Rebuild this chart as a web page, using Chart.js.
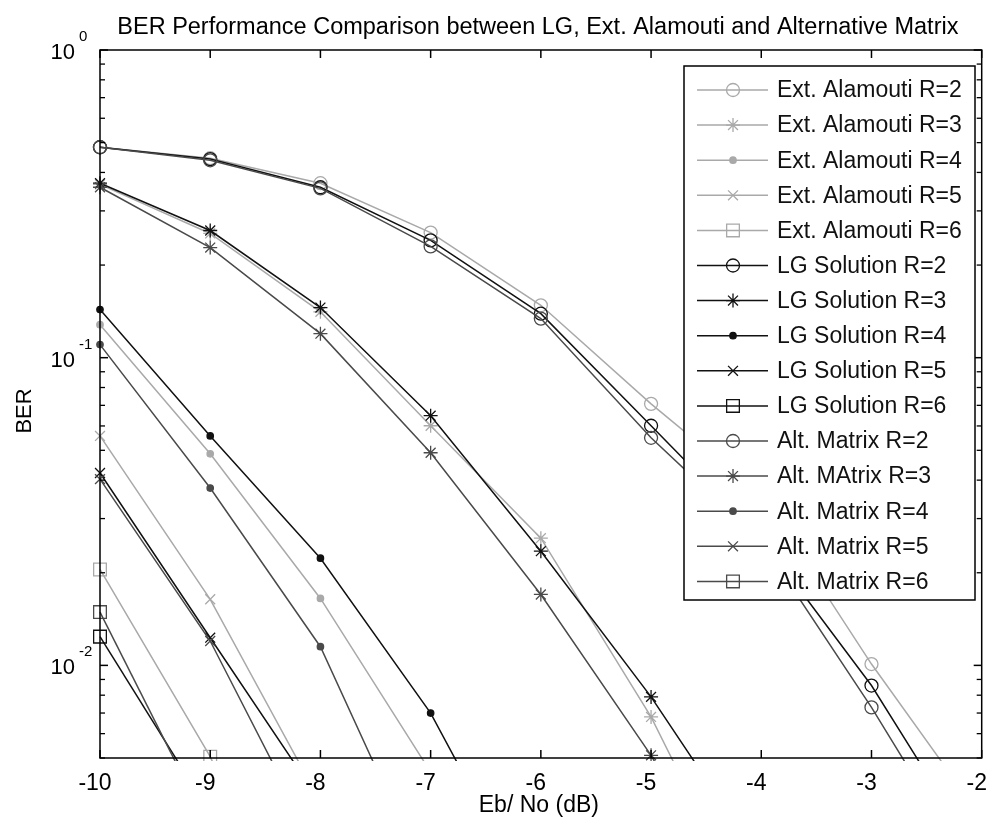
<!DOCTYPE html>
<html><head><meta charset="utf-8">
<script src="https://cdn.jsdelivr.net/npm/chart.js@4.4.0/dist/chart.umd.min.js"></script>
<style>html,body{margin:0;padding:0;background:#fff;}canvas{display:block;}</style>
</head><body>
<canvas id="c" width="992" height="825"></canvas>
<script>
// ---- data ----
const ebno = [-10, -9, -8, -7, -6, -5, -4, -3, -2];
const xTickLabels = ['-10', '-9', '-8', '-7', '-6', '-5', '-4', '-3', '-2'];
const yMajorTicks = [1, 0.1, 0.01];
const yTickExponents = ['0', '-1', '-2'];

const extR2 = [0.483, 0.445, 0.369, 0.255, 0.148, 0.0708, 0.0358, 0.0101, 0.0032];
const extR3 = [0.366, 0.2534, 0.141, 0.0601, 0.0259, 0.0068, 0.0013];
const extR4 = [0.128, 0.0487, 0.0165, 0.0045, 0.0009];
const extR5 = [0.0557, 0.0164, 0.0036];
const extR6 = [0.0205, 0.00505, 0.0008];

const lgR2 = [0.483, 0.442, 0.358, 0.2405, 0.139, 0.0601, 0.0259, 0.0086, 0.0023];
const lgR3 = [0.369, 0.259, 0.1455, 0.0648, 0.0235, 0.0079, 0.0023];
const lgR4 = [0.1433, 0.0557, 0.0223, 0.0070, 0.0015];
const lgR5 = [0.0422, 0.0123, 0.0036];
const lgR6 = [0.0124, 0.0033];

const altR2 = [0.483, 0.438, 0.355, 0.230, 0.134, 0.0549, 0.0253, 0.0073, 0.0019];
const altR3 = [0.358, 0.228, 0.1197, 0.0491, 0.0170, 0.0051, 0.0012];
const altR4 = [0.1103, 0.0377, 0.0115, 0.0019];
const altR5 = [0.0403, 0.0120, 0.0024];
const altR6 = [0.0149, 0.0029];

const seriesNames = [
  'Ext. Alamouti R=2', 'Ext. Alamouti R=3', 'Ext. Alamouti R=4', 'Ext. Alamouti R=5', 'Ext. Alamouti R=6',
  'LG Solution R=2', 'LG Solution R=3', 'LG Solution R=4', 'LG Solution R=5', 'LG Solution R=6',
  'Alt. Matrix R=2', 'Alt. MAtrix R=3', 'Alt. Matrix R=4', 'Alt. Matrix R=5', 'Alt. Matrix R=6'
];
const seriesValues = [extR2, extR3, extR4, extR5, extR6, lgR2, lgR3, lgR4, lgR5, lgR6, altR2, altR3, altR4, altR5, altR6];

const titleText = 'BER Performance Comparison between LG, Ext. Alamouti and Alternative Matrix';
const xTitle = 'Eb/ No (dB)';
const yTitle = 'BER';

// ---- styles ----
const FONT = '"Liberation Sans", Arial, Helvetica, sans-serif';
const groupColors = ['#a9a9a9', '#111111', '#4a4a4a'];
const markerStyles = [
  {pointStyle: 'circle', radius: 6.5, filled: false},
  {pointStyle: 'star', radius: 7, filled: false},
  {pointStyle: 'circle', radius: 3.2, filled: true},
  {pointStyle: 'crossRot', radius: 7, filled: false},
  {pointStyle: 'rect', radius: 9, filled: false}
];

const datasets = seriesValues.map((vals, i) => {
  const g = Math.floor(i / 5), m = markerStyles[i % 5];
  const col = groupColors[g];
  return {
    label: seriesNames[i],
    data: vals.map((v, k) => ({x: ebno[k], y: v})),
    borderColor: col,
    backgroundColor: m.filled ? col : 'rgba(0,0,0,0)',
    pointBorderColor: col,
    pointBackgroundColor: m.filled ? col : 'rgba(0,0,0,0)',
    pointStyle: m.pointStyle,
    pointRadius: m.radius,
    pointHoverRadius: m.radius,
    pointBorderWidth: 1.3,
    borderWidth: 1.5,
    tension: 0,
    fill: false,
    order: 20 - i,
    clip: {left: 12, top: 0, right: 0, bottom: 3}
  };
});

function line(ctx, x1, y1, x2, y2) {
  ctx.beginPath(); ctx.moveTo(x1, y1); ctx.lineTo(x2, y2); ctx.stroke();
}

function drawMarker(ctx, ds, x, y) {
  ctx.save();
  ctx.strokeStyle = ds.pointBorderColor;
  ctx.fillStyle = ds.pointBackgroundColor;
  ctx.lineWidth = ds.pointBorderWidth;
  Chart.helpers.drawPoint(ctx, {pointStyle: ds.pointStyle, radius: ds.pointRadius, rotation: 0, borderWidth: ds.pointBorderWidth}, x, y);
  ctx.restore();
}

const matlabPlugin = {
  id: 'matlabLook',
  afterDraw(chart) {
    const {ctx, chartArea: a} = chart;
    const xs = chart.scales.x, ys = chart.scales.y;
    ctx.save();
    ctx.strokeStyle = '#000';
    ctx.fillStyle = '#000';
    ctx.lineWidth = 1.5;
    // axes box
    ctx.strokeRect(a.left, a.top, a.right - a.left, a.bottom - a.top);
    // x ticks (inward, bottom and top) + labels
    ctx.font = '23px ' + FONT;
    ctx.textAlign = 'center';
    ctx.textBaseline = 'alphabetic';
    ebno.forEach((v, i) => {
      const px = xs.getPixelForValue(v);
      line(ctx, px, a.bottom, px, a.bottom - 8);
      line(ctx, px, a.top, px, a.top + 8);
      ctx.fillText(xTickLabels[i], px - 5, a.bottom + 32);
    });
    // y ticks: minor and major
    ctx.lineWidth = 1.3;
    for (let k = -3; k <= -1; k++) {
      for (let m = 2; m <= 9; m++) {
        const v = m * Math.pow(10, k);
        if (v < ys.min || v > ys.max) continue;
        const py = ys.getPixelForValue(v);
        line(ctx, a.left, py, a.left + 5, py);
        line(ctx, a.right, py, a.right - 5, py);
      }
    }
    ctx.lineWidth = 1.5;
    yMajorTicks.forEach((v, i) => {
      const py = ys.getPixelForValue(v);
      line(ctx, a.left, py, a.left + 8, py);
      line(ctx, a.right, py, a.right - 8, py);
      ctx.font = '22px ' + FONT;
      ctx.textAlign = 'right';
      ctx.fillText('10', a.left - 25, py + 9);
      ctx.font = '15px ' + FONT;
      ctx.textAlign = 'left';
      ctx.fillText(yTickExponents[i], a.left - 21, py - 9);
    });
    // titles
    ctx.font = '23.5px ' + FONT;
    ctx.textAlign = 'center';
    ctx.fillText(titleText, (a.left + a.right) / 2 - 3, 34);
    ctx.font = '23px ' + FONT;
    ctx.fillText(xTitle, (a.left + a.right) / 2 - 2, 812);
    ctx.save();
    ctx.translate(31, 411);
    ctx.rotate(-Math.PI / 2);
    ctx.font = '22px ' + FONT;
    ctx.fillText(yTitle, 0, 0);
    ctx.restore();

    // legend box
    const L = {left: 684, top: 66, right: 975, bottom: 600};
    ctx.fillStyle = '#fff';
    ctx.fillRect(L.left, L.top, L.right - L.left, L.bottom - L.top);
    ctx.strokeStyle = '#000';
    ctx.lineWidth = 1.5;
    ctx.strokeRect(L.left, L.top, L.right - L.left, L.bottom - L.top);
    ctx.font = '23px ' + FONT;
    ctx.textAlign = 'left';
    ctx.textBaseline = 'middle';
    chart.data.datasets.forEach((ds, i) => {
      const cy = L.top + 24 + i * 35.1;
      ctx.strokeStyle = ds.borderColor;
      ctx.lineWidth = ds.borderWidth;
      line(ctx, L.left + 13, cy, L.left + 84, cy);
      drawMarker(ctx, ds, L.left + 49, cy);
      ctx.fillStyle = '#111';
      ctx.fillText(ds.label, L.left + 93, cy + 1);
    });
    ctx.restore();
  }
};

new Chart(document.getElementById('c'), {
  type: 'line',
  data: {datasets},
  options: {
    responsive: false,
    animation: false,
    events: [],
    layout: {padding: {left: 100, top: 50, right: 5, bottom: 67}},
    plugins: {legend: {display: false}, title: {display: false}, tooltip: {enabled: false}},
    scales: {
      x: {type: 'linear', min: -10, max: -2, display: false},
      y: {type: 'logarithmic', min: 0.005, max: 1, display: false}
    }
  },
  plugins: [{id: 'bg', beforeDraw(c) { const x = c.ctx; x.save(); x.fillStyle = '#fff'; x.fillRect(0, 0, c.width, c.height); x.restore(); }}, matlabPlugin]
});
</script>
</body></html>
